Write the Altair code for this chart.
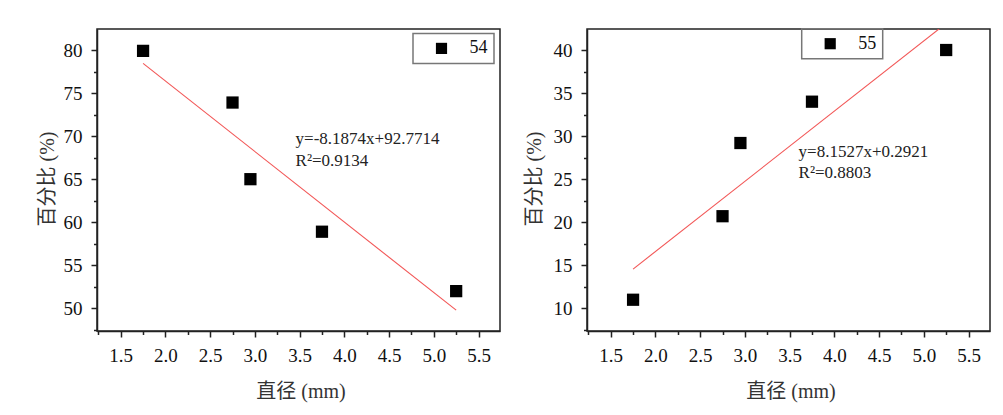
import altair as alt
import pandas as pd

# ---- data ----
diameter = [1.75, 2.75, 2.95, 3.75, 5.25]
pct_54 = [79.9, 73.9, 65.0, 58.9, 52.0]
pct_55 = [11.0, 20.7, 29.2, 34.0, 40.0]
series = ["54", "55"]
slopes = [-8.1874, 8.1527]
intercepts = [92.7714, 0.2921]
r2 = [0.9134, 0.8803]
fit_x = [1.75, 5.25]

x_major = [1.5, 2.0, 2.5, 3.0, 3.5, 4.0, 4.5, 5.0, 5.5]
x_minor = [1.25, 1.75, 2.25, 2.75, 3.25, 3.75, 4.25, 4.75, 5.25]

SERIF = "'Liberation Serif', 'Times New Roman', 'Noto Sans CJK SC', serif"
W, H = 403, 302


def panel(yvals, name, slope, icpt, rsq, ydom, ymajor, yminor, legx, legy, ann, ytx):
    df = pd.DataFrame({"x": diameter, "y": yvals, "s": name})
    fit = pd.DataFrame({"x": fit_x, "y": [slope * v + icpt for v in fit_x]})
    sign = "+" if icpt >= 0 else "-"
    eq = f"y={slope:.4f}x{sign}{abs(icpt):.4f}\nR\u00b2={rsq:.4f}"
    ann_df = pd.DataFrame({"x": [ann[0]], "y": [ann[1]], "t": [eq]})

    def xs():
        return alt.Scale(domain=[1.235, 5.74], nice=False, zero=False)

    def ys():
        return alt.Scale(domain=ydom, nice=False, zero=False)

    xaxis = alt.Axis(
        values=x_major, format=".1f", tickSize=6, orient="bottom",
        labelPadding=9, labelOverlap=False, labelFlush=False, grid=False,
        title="直径 (mm)", titleBaseline="middle", titleY=60, titleX=W / 2 + 2,
    )
    yaxis = alt.Axis(
        values=ymajor, format="d", tickSize=6, orient="left",
        labelPadding=9, labelOverlap=False, labelFlush=False, grid=False,
        title="百分比 (%)", titleBaseline="middle", titleX=ytx, titleY=149.5,
    )
    xminor_axis = alt.Axis(values=x_minor, labels=False, tickSize=3.5, domain=False,
                           grid=False, title=None, orient="bottom")
    yminor_axis = alt.Axis(values=yminor, labels=False, tickSize=3.5, domain=False,
                           grid=False, title=None, orient="left")

    minor = alt.Chart(df).mark_square(opacity=0).encode(
        x=alt.X("x:Q", scale=xs(), axis=xminor_axis),
        y=alt.Y("y:Q", scale=ys(), axis=yminor_axis),
    )
    line = alt.Chart(fit).mark_line(color="#f25555", strokeWidth=1.1, clip=True).encode(
        x=alt.X("x:Q", scale=xs(), axis=None), y=alt.Y("y:Q", scale=ys(), axis=None)
    )
    pts = alt.Chart(df).mark_square(size=150, opacity=1, strokeWidth=0).encode(
        x=alt.X("x:Q", scale=xs(), axis=xaxis),
        y=alt.Y("y:Q", scale=ys(), axis=yaxis),
        color=alt.Color(
            "s:N",
            scale=alt.Scale(range=["#000000"]),
            legend=alt.Legend(
                title=None, orient="none", legendX=legx, legendY=legy,
                symbolType="square", symbolSize=125, symbolStrokeWidth=0,
                symbolOpacity=1, symbolFillColor="#000000",
                symbolOffset=13.5, labelOffset=19, padding=6,
                strokeColor="#777777",
                labelFont=SERIF, labelFontSize=18, labelColor="#111111",
            ),
        ),
    )
    txt = alt.Chart(ann_df).mark_text(
        align="left", baseline="alphabetic", font=SERIF, fontSize=17,
        lineBreak="\n", lineHeight=21.7, color="#222222",
    ).encode(x=alt.X("x:Q", scale=xs(), axis=None),
             y=alt.Y("y:Q", scale=ys(), axis=None), text="t:N")

    return alt.layer(minor, line, pts, txt).resolve_scale(
        x="independent", y="independent"
    ).properties(width=W, height=H)


left = panel(pct_54, series[0], slopes[0], intercepts[0], r2[0],
             [47.37, 82.44], [50, 55, 60, 65, 70, 75, 80],
             [47.5, 52.5, 57.5, 62.5, 67.5, 72.5, 77.5], 316, 4.4,
             (3.455, 69.05), -50)
right = panel(pct_55, series[1], slopes[1], intercepts[1], r2[1],
              [7.37, 42.44], [10, 15, 20, 25, 30, 35, 40],
              [7.5, 12.5, 17.5, 22.5, 27.5, 32.5, 37.5], 214.7, -0.3,
              (3.60, 27.6), -53)

chart = alt.hconcat(left, right, spacing=87, bounds="flush").resolve_scale(
    color="independent"
).resolve_legend(color="independent").properties(
    padding={"left": 28, "top": 19, "right": 2, "bottom": 4}
).configure_view(
    stroke="#222222", strokeWidth=1.5
).configure_axis(
    domainColor="#222222", domainWidth=1.5, tickColor="#222222", tickWidth=1.5,
    labelFont=SERIF, labelFontSize=19, labelColor="#111111",
    titleFont=SERIF, titleFontSize=20, titleFontWeight="normal", titleColor="#333333",
).configure_legend(strokeWidth=1.5)

chart.save("out.html", embed_options={"renderer": "svg", "actions": False})
